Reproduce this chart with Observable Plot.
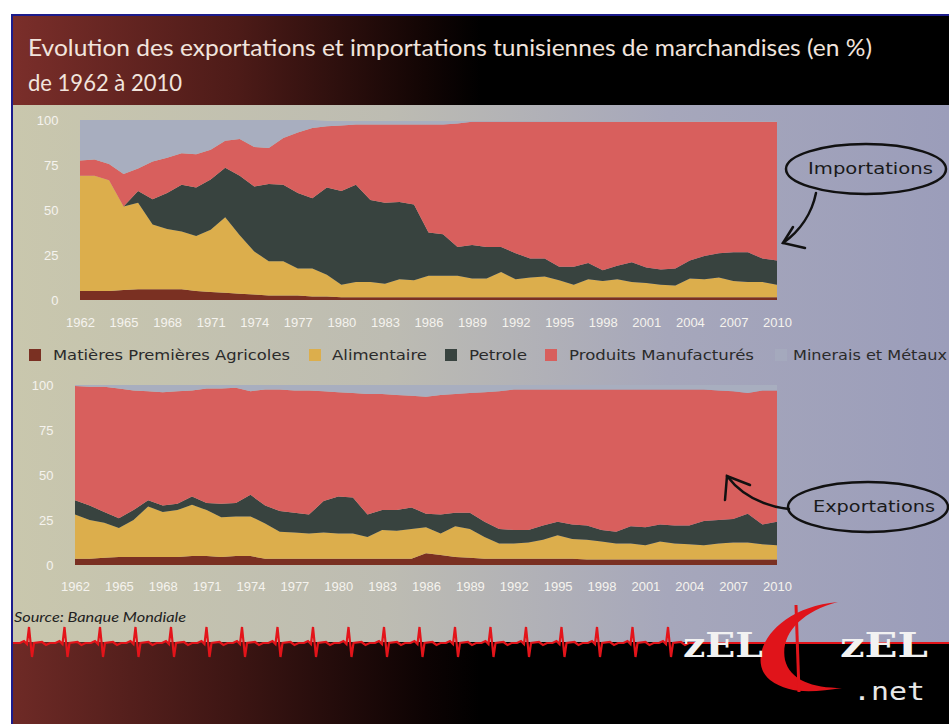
<!DOCTYPE html>
<html><head><meta charset="utf-8">
<script src="https://cdn.jsdelivr.net/npm/d3@7"></script>
<script src="https://cdn.jsdelivr.net/npm/@observablehq/plot@0.6"></script>
<style>
html,body{margin:0;padding:0;background:#fff;}
#page{position:relative;width:949px;height:724px;overflow:hidden;}
.abs{position:absolute;}
svg{display:block;}
</style></head><body>
<div id="page">
  <div class="abs" style="left:11px;top:14px;width:938px;height:710px;background:#1c1c8c;"></div>
  <div class="abs" style="left:13px;top:16px;width:936px;height:89px;background:linear-gradient(to right,#7a2e2a 0%,#4d1b18 24%,#120504 44%,#000 50%,#000 100%);"></div>
  <div class="abs" style="left:13px;top:105px;width:936px;height:537px;background:linear-gradient(to right,#c9c7ad 0%,#bdbcb2 40%,#a6a7bb 70%,#9b9dba 100%);"></div>
  <div class="abs" style="left:13px;top:642px;width:936px;height:82px;background:linear-gradient(to right,#6e2a26 0%,#3c1513 24%,#0d0303 44%,#000 50%,#000 100%);"></div>
  <div class="abs" id="titlebox" style="left:0;top:0;"></div>
  <div class="abs" id="topchart" style="left:0;top:105px;"></div>
  <div class="abs" id="legendbox" style="left:0;top:340px;"></div>
  <div class="abs" id="botchart" style="left:0;top:372px;"></div>
  <div class="abs" id="footbox" style="left:0;top:600px;"></div>
</div>
<script>
// ---------- DATA ----------
const years = d3.range(1962, 2011);
const xTicks = [1962,1965,1968,1971,1974,1977,1980,1983,1986,1989,1992,1995,1998,2001,2004,2007,2010];
const yTicks = [0,25,50,75,100];
const cats = ["Matières Premières Agricoles","Alimentaire","Petrole","Produits Manufacturés","Minerais et Métaux"];
const catColors = ["#7a3022","#dcae4c","#38433f","#d85f5d","#a8aebf"];

// Importations (% of total), 1962..2010
const impAgri = [5,5,5,5.5,6,6,6,6,5,4.5,4,3.5,3,2.5,2.5,2.5,2,2,1.5,1.5,1.5,1.5,1.5,1.5,1.5,1.5,1.5,1.5,1.5,1.5,1.5,1.5,1.5,1.5,1.5,1.5,1.5,1.5,1.5,1.5,1.5,1.5,1.5,1.5,1.5,1.5,1.5,1.5,1.5];
const impAlim = [64,64,61.5,46.5,48,36,33.5,32,30.5,34.5,42,32.5,24,19,19,15,15.5,12,7,8.5,8.5,7.5,10,9.5,12,12,12,10.5,10.5,14,10,11,11.5,9.5,7,10,9,10,8.5,8,7,6.5,10.5,10,11,9,8.5,8.5,7];
const impPetrole = [0,0,0,0,6.5,14,20,26,27,28,27.5,33,36,43,42.5,42,39,48.5,52,54,45.5,45,43,42,24,23,16,18.5,17.5,14,14.5,10.5,10,7.5,10,9,6,7.5,11,8.5,8.5,9.5,10,13,13.5,16,16.5,13,13.5];
const impManuf = [8.5,9,9,18,12.5,21,19.5,17.5,18.5,16.5,15,20.5,22,20,26,33.5,39,34,36.5,33.5,42,43.5,43,44.5,60,61,68.5,68.5,69.5,69.5,73,76,76,80.5,80.5,78.5,82.5,80,78,81,82,81.5,77,74.5,73,72.5,72.5,76,77];
const impMinerais = [22.5,22,24.5,30,27,23,21,18.5,19,16.5,11.5,10.5,15,15.5,10,7,4.5,3,2.5,2,2,2,2,2,2,2,1.5,0.5,0.5,0.5,0.5,0.5,0.5,0.5,0.5,0.5,0.5,0.5,0.5,0.5,0.5,0.5,0.5,0.5,0.5,0.5,0.5,0.5,0.5];

// Exportations (% of total), 1962..2010
const expAgri = [3.5,3.5,4,4.5,4.5,4.5,4.5,4.5,5,5,4.5,5,5,3.5,3.5,3.5,3.5,3.5,3.5,3.5,3.5,3.5,3.5,3.5,6.5,5.5,4.5,4,3.5,3.5,3.5,3.5,3.5,3.5,3.5,3,3,3,3,3,3,3,3,3,3,3,3,3,3];
const expAlim = [24.5,21.5,19.5,16,20.5,28,25,26,28.5,25.5,22,22,22,19.5,15,14.5,14,14.5,14,14,12,16,15.5,16.5,14.5,12,17,16,12,8.5,8.5,9,10.5,13,11,11,10,9,9,8,10,9,8.5,8,9,9.5,9.5,8.5,8];
const expPetrole = [8,8,6,5.5,5.5,3.5,3.5,3.5,4.5,4,7.5,7.5,12,10,11.5,11,10.5,17.5,20.5,20,12.5,11,11.5,12,7.5,10.5,7.5,9,8.5,8,7.5,7,8,7.5,8,8,6.5,6.5,9.5,10,9.5,10,10.5,13.5,13,13,16,11,13];
const expManuf = [63.5,66,69.5,72,66.5,60.5,63,62.5,59,63.5,64,64,57.5,64.5,67.5,68,69,61,58,58,67,64.5,64,62,65,66.5,66,66.5,72,76.5,78,78,75.5,73.5,75,75.5,78,79,76,76.5,75,75.5,75.5,73,72,71,67,74.5,73];
const expMinerais = [0.5,1,1,2,3,3.5,4,3.5,3,2,2,1.5,3.5,2.5,2.5,3,3,3.5,4,4.5,5,5,5.5,6,6.5,5.5,5,4.5,4,3.5,2.5,2.5,2.5,2.5,2.5,2.5,2.5,2.5,2.5,2.5,2.5,2.5,2.5,2.5,3,3.5,4.5,3,3];

const impSeries = [impAgri, impAlim, impPetrole, impManuf, impMinerais];
const expSeries = [expAgri, expAlim, expPetrole, expManuf, expMinerais];
const toRows = series => years.flatMap((year, i) => cats.map((cat, j) => ({year, cat, value: series[j][i]})));

// ---------- TITLE ----------
const tsvg = d3.select("#titlebox").append("svg").attr("width", 949).attr("height", 105);
tsvg.append("text").attr("x", 28).attr("y", 56).attr("fill", "#f1e4dd")
  .attr("font-family", "Lato, 'Open Sans', sans-serif").attr("font-size", 24)
  .attr("textLength", 844).attr("lengthAdjust", "spacingAndGlyphs")
  .text("Evolution des exportations et importations tunisiennes de marchandises (en %)");
tsvg.append("text").attr("x", 28).attr("y", 91).attr("fill", "#f1e4dd")
  .attr("font-family", "Lato, 'Open Sans', sans-serif").attr("font-size", 24)
  .attr("textLength", 154).attr("lengthAdjust", "spacingAndGlyphs")
  .text("de 1962 à 2010");

// ---------- CHARTS ----------
function chart(rows, left, mTop, height, mBottom, xPad) {
  return Plot.plot({
    width: 949, height,
    marginLeft: left, marginRight: 172, marginTop: mTop, marginBottom: mBottom,
    style: {background: "transparent", color: "#f5f3ee", fontSize: "13px", fontFamily: "'Liberation Sans', Arial, sans-serif"},
    x: {domain: [1962, 2010], ticks: xTicks, tickFormat: d => String(d), tickSize: 0, tickPadding: xPad, label: null},
    y: {domain: [0, 100], ticks: yTicks, tickSize: 0, tickPadding: 22, label: null},
    color: {domain: cats, range: catColors},
    marks: [
      Plot.areaY(rows, {x: "year", y: "value", fill: "cat", order: cats, curve: "linear"})
    ]
  });
}
const topSvg = chart(toRows(impSeries), 80, 15, 235, 40, 17);
document.getElementById("topchart").appendChild(topSvg);
const botSvg = chart(toRows(expSeries), 75, 13, 233, 40, 16);
document.getElementById("botchart").appendChild(botSvg);

const handFont = "'DejaVu Sans', sans-serif";
// Importations bubble
const ts = d3.select(topSvg);
const ga = ts.append("g").attr("fill", "none").attr("stroke", "#111").attr("stroke-width", 2.5).attr("stroke-linecap", "round");
ga.append("ellipse").attr("cx", 866).attr("cy", 64).attr("rx", 80).attr("ry", 25);
ga.append("path").attr("d", "M816,88 C 812,108 800,126 783,138");
ga.append("path").attr("d", "M793,122 L783,138 L805,143");
ts.append("text").attr("x", 808).attr("y", 69).attr("text-anchor", "start").attr("fill", "#1a1a1a").attr("font-family", handFont)
  .attr("font-size", 15).attr("textLength", 125).attr("lengthAdjust", "spacingAndGlyphs").text("Importations");
// Exportations bubble
const bs = d3.select(botSvg);
const gb = bs.append("g").attr("fill", "none").attr("stroke", "#111").attr("stroke-width", 2.5).attr("stroke-linecap", "round");
gb.append("ellipse").attr("cx", 868).attr("cy", 135).attr("rx", 80).attr("ry", 25);
gb.append("path").attr("d", "M789,137 C 765,134 742,124 727,104");
gb.append("path").attr("d", "M750,113 L727,104 L725,128");
bs.append("text").attr("x", 813).attr("y", 140).attr("text-anchor", "start").attr("fill", "#1a1a1a").attr("font-family", handFont)
  .attr("font-size", 15).attr("textLength", 122).attr("lengthAdjust", "spacingAndGlyphs").text("Exportations");

// ---------- LEGEND ----------
const legendPos = [[29, 53, 237], [309, 332, 95], [445, 469, 58], [545, 569, 185], [775, 793, 154]];
const lsvg = d3.select("#legendbox").append("svg").attr("width", 949).attr("height", 32);
cats.forEach((c, i) => {
  const [sx, tx, tw] = legendPos[i];
  lsvg.append("rect").attr("x", sx).attr("y", 9).attr("width", 12).attr("height", 12)
    .attr("fill", catColors[i]).attr("opacity", i === 4 ? 0.55 : 1);
  lsvg.append("text").attr("x", tx).attr("y", 20).attr("fill", "#2b2b2b").attr("font-family", handFont)
    .attr("font-size", 14).attr("textLength", tw).attr("lengthAdjust", "spacingAndGlyphs").text(c);
});

// ---------- FOOTER ----------
const fsvg = d3.select("#footbox").append("svg").attr("width", 949).attr("height", 124);
fsvg.append("text").attr("x", 14).attr("y", 22).attr("fill", "#222").attr("font-style", "italic")
  .attr("font-family", "Lato, 'Open Sans', sans-serif").attr("font-size", 13)
  .attr("textLength", 172).attr("lengthAdjust", "spacingAndGlyphs").text("Source: Banque Mondiale");
// ECG line (decorative)
let p = "M13,43";
for (let x = 20; x < 690; x += 35.5) {
  p += ` L${x},43 L${x+4},41 L${x+7},44 L${x+9},27 L${x+12},57 L${x+14},43 L${x+22},42 L${x+26},45 L${x+30},43`;
}
p += " L949,43";
fsvg.append("path").attr("d", p).attr("fill", "none").attr("stroke", "#e3141a").attr("stroke-width", 2.2);
// logo
fsvg.append("path").attr("d", "M838,2 C 770,8 745,60 770,80 C 790,95 815,92 842,88 C 812,88 790,80 785,60 C 780,35 800,12 838,2 Z")
  .attr("fill", "#e0141a");
fsvg.append("path").attr("d", "M796,5 L799,92").attr("stroke", "#e0141a").attr("stroke-width", 3);
fsvg.append("text").attr("x", 683).attr("y", 57).attr("fill", "#f2f2f2").attr("font-family", "'DejaVu Serif', serif")
  .attr("font-weight", "bold").attr("font-size", 34).attr("textLength", 80).attr("lengthAdjust", "spacingAndGlyphs").text("zEL");
fsvg.append("text").attr("x", 840).attr("y", 57).attr("fill", "#f2f2f2").attr("font-family", "'DejaVu Serif', serif")
  .attr("font-weight", "bold").attr("font-size", 34).attr("textLength", 88).attr("lengthAdjust", "spacingAndGlyphs").text("zEL");
fsvg.append("text").attr("x", 853).attr("y", 100).attr("fill", "#e8e8e8").attr("font-family", "'DejaVu Sans Mono', monospace")
  .attr("font-size", 24).attr("textLength", 72).attr("lengthAdjust", "spacingAndGlyphs").text(".net");
</script>
</body></html>
